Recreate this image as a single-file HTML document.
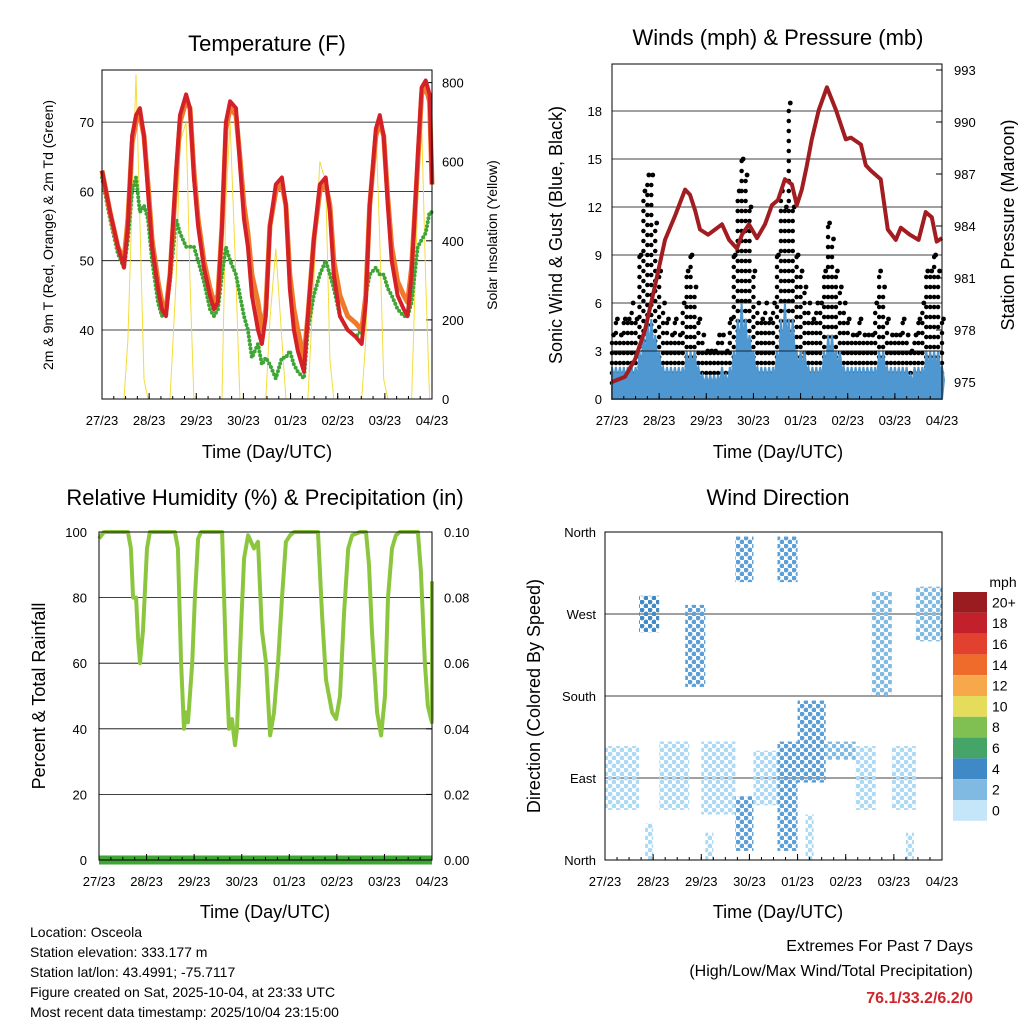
<!DOCTYPE html>
<html><head><meta charset="utf-8"><style>
body{margin:0;background:#fff}
svg{display:block;font-family:"Liberation Sans",Arial,sans-serif}
</style></head><body>
<svg id="c" width="1024" height="1024" viewBox="0 0 1024 1024" xmlns="http://www.w3.org/2000/svg">
<g id="g"></g>
<text x="30" y="937" font-size="14">Location: Osceola</text>
<text x="30" y="957" font-size="14">Station elevation: 333.177 m</text>
<text x="30" y="977" font-size="14">Station lat/lon: 43.4991; -75.7117</text>
<text x="30" y="997" font-size="14">Figure created on Sat, 2025-10-04, at 23:33 UTC</text>
<text x="30" y="1017" font-size="14">Most recent data timestamp: 2025/10/04 23:15:00</text>
<text x="973" y="951" font-size="16" text-anchor="end">Extremes For Past 7 Days</text>
<text x="973" y="976" font-size="16" text-anchor="end">(High/Low/Max Wind/Total Precipitation)</text>
<text x="973" y="1003" font-size="16" font-weight="bold" fill="#d0262b" text-anchor="end">76.1/33.2/6.2/0</text>
</svg>
<script>
// ---------- data ----------
const dayLabels=["27/23","28/23","29/23","30/23","01/23","02/23","03/23","04/23"];
const tTemp=[0,4.1,8.1,11.2,13.2,15.3,17.3,19.3,21.4,23.4,25.5,28.5,30.5,32.6,34.6,37.7,39.7,42.8,44.8,46.8,48.9,51.9,55,57,59,61.1,63.1,65.2,68.2,70.2,72.3,74.3,76.3,79.4,81.4,83.4,85.5,88.5,91.6,93.6,95.6,97.7,99.7,102.8,104.8,107.8,110.9,113.9,116,118,121.1,125.1,129.2,132.2,134.3,136.3,139.4,141.4,143.4,145.5,147.5,150.5,153.6,155.6,157.6,160.7,162.7,164.8,166.8,168];
const tempRed=[63,57,52,49,55,68,71,72,68,60,52,46,43,42,48,63,71,74,72,62,55,49,45,43,44,55,70,73,72,64,56,52,45,40,38,42,55,61,62,58,46,40,37,34,42,53,61,62,57,48,42,40,39,38,44,58,69,71,68,58,50,45,43,42,48,65,75,76,74,61];
const tempOrange=[63,57,52,50,56,67,70,71,68,61,53,47,44,43,48,62,70,73,72,63,56,50,46,44,45,55,69,72,71,65,58,54,48,44,40,43,55,60,61,58,48,43,40,36,42,53,60,61,58,50,45,42,41,40,45,58,68,70,68,59,52,47,45,44,49,64,74,75,73,61];
const tempGreen=[62,56,51,49,53,60,62,57,58,56,50,44,42,43,47,56,54,52,52,52,50,47,43,42,43,48,52,50,48,45,42,40,36,38,35,36,35,33,36,36,37,35,34,33,40,45,48,50,48,46,42,40,39,40,45,48,49,48,48,46,45,43,42,42,44,52,53,54,57,57];
const solar=[0,0,0,0,150,500,820,450,50,0,0,0,0,0,0,300,650,700,300,0,0,0,0,0,0,0,500,700,300,0,0,0,0,0,0,0,200,380,150,0,0,0,0,0,0,300,600,550,100,0,0,0,0,0,150,500,700,400,50,0,0,0,0,0,0,500,700,300,0,0];
const tPres=[0,6.6,11.7,16.8,22,27,32.1,37.2,39.7,42.3,44.8,48.9,52.5,56,59.6,63.6,66.2,69.7,73.8,77.9,81.4,84.5,88,91.6,94.1,96.6,99.2,101.7,105.3,109.4,114,119,121.6,126.7,129.2,131.7,136.8,140.4,144.5,147,151.6,156.1,159.7,162.8,165.3,168];
const pressure=[975,975.3,976.3,978,980.6,983.2,984.6,986.1,985.8,984.9,983.8,983.5,983.8,984.1,983.2,982.7,983.5,984.1,983.3,984.1,985.2,985.5,986.7,986.4,985.2,986.1,987.5,989,990.7,992,990.7,989,989.1,988.7,987.5,987.2,986.7,983.8,983.2,983.9,983.5,983.2,984.8,984.5,983.1,983.3];
const gustHigh=[4,5,4,5,5,6,5,9,13,14,14,11,8,6,5,4,5,4,6,8,9,7,5,4,3,3,3,4,4,3,5,9,13,15,14,12,8,6,5,6,5,6,9,13,12,18.5,12,9,8,7,6,5,6,6,8,11,10,8,7,6,5,4,4,5,4,4,4,6,8,7,5,4,4,4,5,4,3,4,5,6,8,8,9,8,5];
const gustLow=[1,1,1,1,1,1,1,2,3,4,4,3,2,1,1,1,1,1,1,2,2,2,1,1,1,1,1,1,1,1,1,2,3,3,3,3,2,1,1,1,1,1,2,3,3,3,3,2,2,1,1,1,1,1,2,2,2,2,1,1,1,1,1,1,1,1,1,1,2,2,1,1,1,1,1,1,1,1,1,1,2,2,2,2,1];
const windHigh=[2,2,2,2,2,2,2,3,4,5,5,4,3,2,2,2,2,2,2,3,3,3,2,1.5,1.5,1.5,1.5,1.5,2,1.5,2,3,5,6,5,4,3,2,2,2,2,2,3,5,6,5,5,3,3,3,2,2,2,2,3,4,4,3,3,2,2,2,2,2,2,2,2,2,3,3,2,2,2,2,2,2,1.5,2,2,2,3,3,3,3,2];
const dirT0=[0,17,27,40,48,65,65,74,86,86,96,110,125,133,143,155,20,50,100,150];
const dirT1=[17,27,42,50,65,74,74,88,96,96,110,125,135,143,155,168,24,54,104,154];
const dirLo=[55,250,55,190,50,305,10,60,305,10,85,110,55,180,55,240,0,0,0,0];
const dirHi=[125,290,130,280,130,355,70,120,355,130,175,130,125,295,125,300,40,30,50,30];
const dirSpd=[1,4,1,3,1,3,3,1,3,3,3,2,1,2,1,2,1,1,1,1];
const rhT=[0,2.5,14.6,16.1,17.2,18.7,19.7,20.7,22.2,24.2,25.7,38.3,39.8,41.4,42.9,43.9,44.9,47,48.4,50,51.5,62.1,64.1,65.6,67.1,68.6,69.6,71.6,73.2,75.2,78.2,80.2,82.2,84.3,86.3,88.3,90.3,92.3,94.3,96.4,98.4,110.5,112.5,114.5,117.6,119.6,121.6,123.6,125.7,127.7,131.7,134.7,136.2,137.7,140.3,142.3,144.3,145.8,147.8,149.8,151.8,160.9,162.4,164.4,165.9,167.9,168,168];
const rh=[98,100,100,95,80,80,68,60,70,95,100,100,95,60,40,45,42,60,80,98,100,100,60,40,43,35,40,70,92,99,95,97,70,60,38,45,60,80,97,99,100,100,75,55,45,43,50,75,95,99,100,100,90,70,45,38,50,80,95,99,100,100,88,60,47,42,45,85];
const precip=[0,0];
const precipT=[0,168];
const cbLabels=["20+","18","16","14","12","10","8","6","4","2","0"];
const cbColors=["#9b1c20","#c2202a","#e2412f","#ef6b2c","#f7a84a","#e6dc5c","#80bf52","#45a467","#3f8ac6","#80b9e2","#c4e6f8"];
// ---------- helpers ----------
const NS="http://www.w3.org/2000/svg";const G=document.getElementById('g');
function el(tag,attrs,parent){const e=document.createElementNS(NS,tag);for(const k in attrs)e.setAttribute(k,attrs[k]);(parent||G).appendChild(e);return e;}
function txt(x,y,s,size,anchor,rot,name){const e=el('text',{x:x,y:y,'font-size':size,'text-anchor':anchor||'middle'});if(rot)e.setAttribute('transform','rotate(-90 '+x+' '+y+')');e.textContent=s;


return e;}
function pathFrom(xs,ys){let d='';for(let i=0;i<xs.length;i++)d+=(i?'L':'M')+xs[i].toFixed(1)+' '+ys[i].toFixed(1);return d;}
function frame(x0,y0,x1,y1,name){const r=el('rect',{x:x0,y:y0,width:x1-x0,height:y1-y0,fill:'none',stroke:'#000','stroke-width':1});

}
function xTicks(x0,x1,yb){for(let i=0;i<dayLabels.length;i++){const x=x0+i*(x1-x0)/7;el('line',{x1:x,y1:yb,x2:x,y2:yb-6,stroke:'#000'});txt(x,yb+26,dayLabels[i],13,'middle',false,'x-tick-label');}
for(let i=0;i<28;i++){const x=x0+i*(x1-x0)/28;el('line',{x1:x,y1:yb,x2:x,y2:yb-3,stroke:'#000'});}}
// ---------- Panel 1 Temperature ----------
(function(){const x0=102,x1=432,y0=70,y1=399;
const X=t=>x0+t/168*(x1-x0);const Y=v=>330-(v-40)*6.93;const YS=v=>399-v*0.3955;
[40,50,60,70].forEach(v=>{el('line',{x1:x0,y1:Y(v),x2:x1,y2:Y(v),stroke:'#000','stroke-width':0.8});txt(x0-8,Y(v)+5,String(v),13,'end',false,'temp-tick-label');});
[0,200,400,600,800].forEach(v=>{el('line',{x1:x1,y1:YS(v),x2:x1-6,y2:YS(v),stroke:'#000'});txt(x1+10,YS(v)+5,String(v),13,'start',false,'solar-tick-label');});
const cp=el('clipPath',{id:'cp1'});el('rect',{x:x0,y:y0,width:x1-x0,height:y1-y0},cp);
const s=el('path',{d:pathFrom(tTemp.map(X),solar.map(YS)),fill:'none',stroke:'#f3dc3c','stroke-width':1,'clip-path':'url(#cp1)'});

const gr=el('path',{d:pathFrom(tTemp.map(X),tempGreen.map(Y)),fill:'none',stroke:'#3fa535','stroke-width':4,'stroke-dasharray':'0 4','stroke-linecap':'round'});

const o=el('path',{d:pathFrom(tTemp.map(X),tempOrange.map(Y)),fill:'none',stroke:'#f07a2a','stroke-width':5,'stroke-linejoin':'round'});

const r=el('path',{d:pathFrom(tTemp.map(X),tempRed.map(Y)),fill:'none',stroke:'#d42027','stroke-width':4,'stroke-linejoin':'round'});

frame(x0,y0,x1,y1,'temperature-plot-frame');xTicks(x0,x1,y1);
txt(267,51,'Temperature (F)',22,'middle',false,'temperature-title');
txt(267,458,'Time (Day/UTC)',18,'middle',false,'temperature-x-title');
txt(53,235,'2m & 9m T (Red, Orange) & 2m Td (Green)',14,'middle',true,'temperature-y-title');
txt(497,235,'Solar Insolation (Yellow)',14,'middle',true,'solar-y-title');})();
// ---------- Panel 2 Winds ----------
(function(){const x0=612,x1=942,y0=64,y1=399;
const X=t=>x0+t/168*(x1-x0);const Y=v=>399-v*16;const YP=v=>382-(v-975)*52/3;
[3,6,9,12,15,18].forEach(v=>el('line',{x1:x0,y1:Y(v),x2:x1,y2:Y(v),stroke:'#000','stroke-width':0.8}));
[0,3,6,9,12,15,18].forEach(v=>txt(x0-10,Y(v)+5,String(v),13,'end',false,'wind-tick-label'));
[975,978,981,984,987,990,993].forEach(v=>{el('line',{x1:x1,y1:YP(v),x2:x1-6,y2:YP(v),stroke:'#000'});txt(x1+12,YP(v)+5,String(v),13,'start',false,'pressure-tick-label');});
const tb=gustHigh.map((_,i)=>i*2);
for(let i=0;i<tb.length;i++){const x=X(tb[i]);
const g=el('line',{x1:x,y1:Y(gustLow[i]),x2:x,y2:Y(gustHigh[i]),stroke:'#000','stroke-width':4.5,'stroke-linecap':'round','stroke-dasharray':'0 10'});

const g2=el('circle',{cx:x+1.5,cy:Y(gustHigh[i]),r:2.4,fill:'#000'});
}
let d='M'+X(0)+' '+Y(0);for(let i=0;i<tb.length;i++){d+='L'+X(tb[i]).toFixed(1)+' '+Y(windHigh[i]).toFixed(1)+'L'+(X(tb[i])+2).toFixed(1)+' '+Y(windHigh[i]*0.6).toFixed(1);}d+='L'+X(168)+' '+Y(0)+'Z';
const w=el('path',{d:d,fill:'#4f97d0',stroke:'#4f97d0','stroke-width':2});

el('line',{x1:x0,y1:Y(3),x2:x1,y2:Y(3),stroke:'#000','stroke-width':0.8});
const p=el('path',{d:pathFrom(tPres.map(X),pressure.map(YP)),fill:'none',stroke:'#a11d21','stroke-width':4,'stroke-linejoin':'round'});

frame(x0,y0,x1,y1,'winds-plot-frame');xTicks(x0,x1,y1);
txt(778,45,'Winds (mph) & Pressure (mb)',22,'middle',false,'winds-title');
txt(778,458,'Time (Day/UTC)',18,'middle',false,'winds-x-title');
txt(562,235,'Sonic Wind & Gust (Blue, Black)',18,'middle',true,'wind-y-title');
txt(1014,225,'Station Pressure (Maroon)',18,'middle',true,'pressure-y-title');})();
// ---------- Panel 3 RH ----------
(function(){const x0=99,x1=432,y0=532,y1=860;
const X=t=>x0+t/168*(x1-x0);const Y=v=>860-v*3.28;const YR=v=>860-v*3280;
[20,40,60,80].forEach(v=>el('line',{x1:x0,y1:Y(v),x2:x1,y2:Y(v),stroke:'#000','stroke-width':0.8}));
[0,20,40,60,80,100].forEach(v=>txt(x0-12,Y(v)+5,String(v),13,'end',false,'rh-tick-label'));
[0,0.02,0.04,0.06,0.08,0.10].forEach(v=>{el('line',{x1:x1,y1:YR(v),x2:x1-6,y2:YR(v),stroke:'#000'});txt(x1+12,YR(v)+5,v.toFixed(2),13,'start',false,'precip-tick-label');});
const r=el('path',{d:pathFrom(rhT.map(X),rh.map(Y)),fill:'none',stroke:'#8cc63f','stroke-width':4,'stroke-linejoin':'round'});

const p=el('path',{d:pathFrom(precipT.map(X),precip.map(YR)),fill:'none',stroke:'#3fa535','stroke-width':9});

frame(x0,y0,x1,y1,'rh-plot-frame');xTicks(x0,x1,y1);
txt(265,505,'Relative Humidity (%) & Precipitation (in)',22,'middle',false,'rh-title');
txt(265,918,'Time (Day/UTC)',18,'middle',false,'rh-x-title');
txt(45,696,'Percent & Total Rainfall',18,'middle',true,'rh-y-title');})();
// ---------- Panel 4 Wind direction ----------
(function(){const x0=605,x1=942,y0=532,y1=860;
const X=t=>x0+t/168*(x1-x0);const Y=v=>860-v/360*328;
[90,180,270].forEach(v=>el('line',{x1:x0,y1:Y(v),x2:x1,y2:Y(v),stroke:'#000','stroke-width':0.8}));
const dl=['North','East','South','West','North'];[0,90,180,270,360].forEach((v,i)=>txt(x0-9,Y(v)+5,dl[i],13,'end',false,'direction-tick-label'));
for(let i=0;i<dirT0.length;i++){const id='dp'+i;const pt=el('pattern',{id:id,width:8,height:8,patternUnits:'userSpaceOnUse'});
const col=dirSpd[i]>=4?cbColors[8]:dirSpd[i]>=3?'#5b9fd6':dirSpd[i]>=2?'#80b9e2':'#acdaf4';
el('circle',{cx:2,cy:2,r:2.4,fill:col},pt);
el('circle',{cx:6,cy:6,r:2.4,fill:col},pt);
const rc=el('rect',{x:X(dirT0[i]),y:Y(dirHi[i]),width:X(dirT1[i])-X(dirT0[i]),height:Y(dirLo[i])-Y(dirHi[i]),fill:'url(#'+id+')'});
}
frame(x0,y0,x1,y1,'direction-plot-frame');xTicks(x0,x1,y1);
txt(778,505,'Wind Direction',22,'middle',false,'direction-title');
txt(778,918,'Time (Day/UTC)',18,'middle',false,'direction-x-title');
txt(540,696,'Direction (Colored By Speed)',18,'middle',true,'direction-y-title');
// colorbar
txt(1003,587,'mph',14,'middle',false,'colorbar-title');
const cb0=592,ch=20.8;
for(let i=0;i<cbLabels.length;i++){const b=el('rect',{x:953,y:cb0+i*ch,width:34,height:ch,fill:cbColors[i]});

txt(992,cb0+i*ch+ch/2+5,cbLabels[i],14,'start',false,'colorbar-label');}})();
</script>
</body></html>
